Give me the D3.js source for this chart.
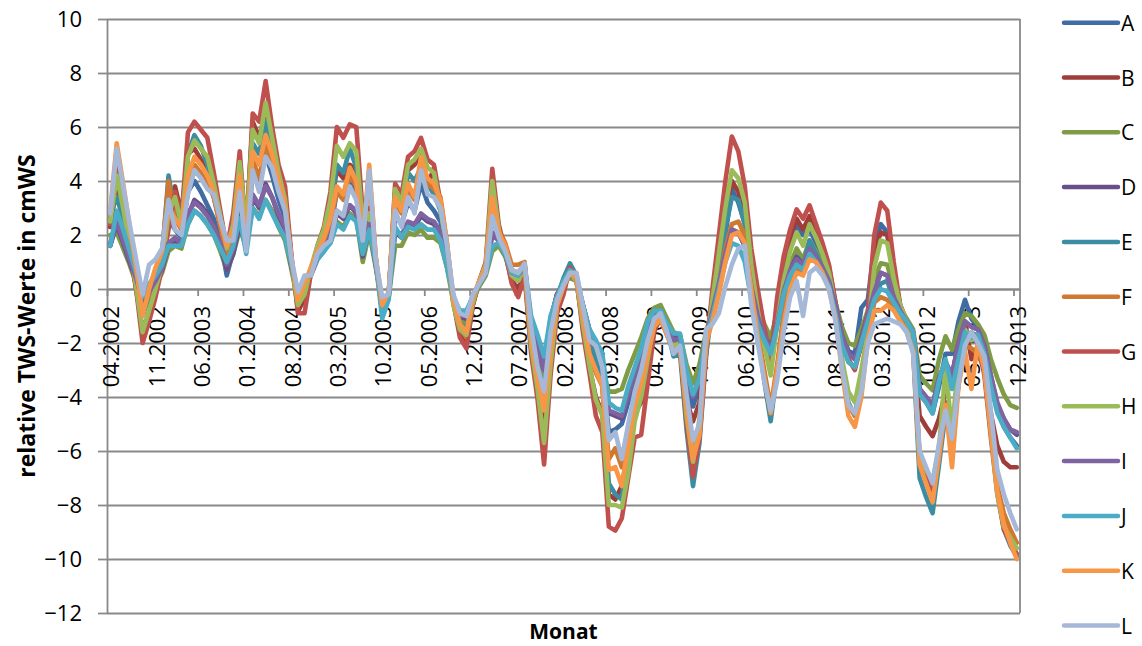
<!DOCTYPE html>
<html>
<head>
<meta charset="utf-8">
<script src="https://cdn.jsdelivr.net/npm/d3@7"></script>
<style>
  body { margin: 0; background: #fff; }
  svg text { font-family: "Open Sans", "DejaVu Sans", sans-serif; fill: #000; }
</style>
</head>
<body>
<div id="chart"></div>
<script>
// months 04.2002 .. 12.2013 (141 categories)
var months = d3.timeMonths(new Date(2002, 3, 1), new Date(2014, 0, 1));
var tickLabels = ["04.2002", "11.2002", "06.2003", "01.2004", "08.2004", "03.2005", "10.2005",
    "05.2006", "12.2006", "07.2007", "02.2008", "09.2008", "04.2009", "11.2009", "06.2010",
    "01.2011", "08.2011", "03.2012", "10.2012", "05.2013", "12.2013"];
var yTicks = [-12, -10, -8, -6, -4, -2, 0, 2, 4, 6, 8, 10];

var seriesNames = ["A", "B", "C", "D", "E", "F", "G", "H", "I", "J", "K", "L"];
var seriesColors = ["#3f6ca3", "#9e3d3a", "#7f9b46", "#67508a", "#3a8da2", "#cf7832",
    "#c0504d", "#9bbb59", "#8064a2", "#4bacc6", "#f79646", "#a6b8d8"];

var A = [1.6, 2.6, 1.9, 1.1, 0.3, -0.6, -0.2, 0.2, 0.8, 2.6,
    2.2, 1.9, 3.6, 4.0, 3.6, 3.1, 2.6, 1.8, 0.5, 1.4,
    3.4, 1.6, 4.3, 3.8, 5.0, 4.2, 3.3, 2.6, 0.9, -0.3,
    0.2, 0.6, 1.2, 1.6, 2.2, 3.6, 3.4, 4.0, 3.6, 1.6,
    2.6, 0.9, -0.5, -0.2, 2.7, 2.4, 3.2, 2.9, 3.9, 3.2,
    2.9, 2.5, 1.2, -0.3, -1.1, -1.2, -0.3, 0.2, 0.7, 2.6,
    2.0, 1.4, 0.6, 0.4, 0.8, -1.5, -2.6, -3.4, -1.4, -0.3,
    0.2, 0.8, 0.4, -0.8, -1.8, -2.3, -3.0, -5.3, -5.2, -5.0,
    -4.2, -3.4, -2.8, -1.8, -1.0, -0.9, -1.5, -2.0, -1.9, -3.6,
    -4.35, -3.6, -1.9, -0.7, 0.6, 2.0, 3.7, 3.2, 2.4, 0.5,
    -0.8, -1.5, -2.0, -0.8, 0.6, 1.6, 2.3, 2.0, 2.2, 1.7,
    1.2, 0.6, -0.6, -1.6, -2.3, -2.4, -0.7, -0.4, 1.6, 2.4,
    2.1, 0.5, -0.8, -1.2, -1.7, -3.9, -4.2, -4.6, -3.6, -2.4,
    -2.4, -1.2, -0.4, -1.1, -1.4, -2.2, -3.4, -4.5, -5.1, -5.5,
    -5.8];
var B = [2.3, 3.8, 2.7, 1.4, 0.0, -1.5, -0.9, -0.1, 0.9, 3.0,
    3.8, 2.8, 5.0, 5.2, 4.8, 4.3, 3.4, 2.4, 1.2, 2.1,
    4.6, 2.2, 6.2, 5.6, 6.6, 5.2, 4.1, 3.4, 1.1, -0.8,
    -0.4, 0.7, 1.5, 2.0, 3.0, 4.4, 4.1, 4.6, 4.4, 2.2,
    3.0, 1.0, -0.8, -0.3, 3.6, 3.1, 4.4, 4.6, 5.0, 3.8,
    4.5, 3.0, 1.4, -0.5, -1.6, -2.1, -0.6, 0.3, 0.9, 3.8,
    2.3, 1.3, 0.3, 0.0, 0.6, -2.2, -3.6, -5.2, -2.6, -0.8,
    0.0, 0.7, 0.3, -1.4, -2.9, -4.0, -4.6, -7.6, -7.8, -7.3,
    -6.0, -4.6, -4.2, -2.9, -1.5, -1.1, -1.7, -2.3, -2.2, -4.1,
    -4.9, -4.2, -2.0, -0.3, 1.2, 2.8, 4.0, 3.6, 2.8, 0.8,
    -0.6, -1.7, -2.7, -0.5, 0.9, 1.9, 2.6, 2.2, 2.7, 2.1,
    1.5, 0.8, -0.5, -1.8, -2.7, -2.9, -2.1, -1.0, 1.4, 2.1,
    2.0, 0.6, -0.6, -1.2, -1.9, -4.7, -5.1, -5.45, -4.8, -3.8,
    -3.2, -2.0, -1.2, -2.6, -2.1, -3.0, -4.6, -5.8, -6.4, -6.6,
    -6.6];
var C = [2.0, 2.1, 1.5, 0.9, 0.2, -0.7, -0.4, 0.1, 0.6, 1.4,
    1.6, 1.5, 2.4, 2.9, 2.7, 2.4, 2.0, 1.4, 0.7, 1.3,
    2.2, 1.6, 3.0, 2.7, 3.3, 2.9, 2.3, 1.8, 0.7, -0.5,
    0.1, 0.6, 1.2, 1.5, 1.7, 2.5, 2.3, 2.8, 2.6, 1.0,
    2.1, 0.8, -0.6, -0.3, 1.6, 1.6, 2.1, 2.0, 2.2, 1.9,
    1.9, 1.7, 0.8, -0.5, -1.2, -1.3, -0.4, 0.1, 0.5, 1.4,
    1.6, 1.2, 0.5, 0.4, 0.7, -1.4, -2.4, -3.2, -1.2, -0.2,
    0.3, 0.4, 0.3, -0.6, -1.6, -2.4, -3.0, -3.8, -3.8, -3.7,
    -3.0, -2.4, -1.8, -1.1, -0.7, -0.6, -1.1, -1.6, -1.7, -2.8,
    -3.5, -2.8, -1.6, -0.8, 0.0, 1.1, 2.2, 2.1, 1.6, 0.3,
    -0.6, -1.3, -1.8, -0.9, 0.2, 0.9, 1.5, 1.1, 1.8, 1.4,
    0.9, 0.4, -0.5, -1.4, -2.0, -2.1, -1.5, -0.8, 0.4, 0.95,
    0.9, 0.0, -0.7, -1.1, -1.5, -3.2, -3.5, -3.75, -2.6, -1.75,
    -2.25, -1.5, -0.9, -1.0, -1.3, -1.7, -2.6, -3.3, -3.9, -4.3,
    -4.4];
var D = [1.6, 2.4, 1.7, 1.0, 0.3, -0.6, -0.3, 0.1, 0.7, 1.6,
    1.8, 1.6, 2.7, 3.3, 3.1, 2.8, 2.3, 1.6, 0.7, 1.3,
    2.4, 1.5, 3.4, 3.0, 3.9, 3.4, 2.7, 2.2, 0.8, -0.3,
    0.2, 0.5, 1.1, 1.4, 1.8, 2.8, 2.6, 3.1, 2.8, 1.2,
    2.3, 0.9, -0.5, -0.2, 2.1, 1.9, 2.4, 2.3, 2.7, 2.5,
    2.4, 2.0, 1.0, -0.3, -1.0, -1.1, -0.3, 0.2, 0.6, 2.0,
    1.8, 1.3, 0.5, 0.3, 0.8, -1.3, -2.3, -3.0, -1.2, -0.2,
    0.2, 0.5, 0.4, -0.6, -1.5, -2.0, -2.6, -4.6, -4.7, -4.8,
    -3.9, -3.1, -2.5, -1.6, -0.9, -0.9, -1.4, -1.8, -1.8, -3.3,
    -4.0, -3.3, -1.8, -0.8, 0.3, 1.4, 2.1, 2.1, 1.6, 0.2,
    -0.9, -1.7, -2.25, -1.2, 0.0, 0.7, 1.2, 0.9, 1.5, 1.2,
    0.8, 0.3, -0.6, -1.7, -2.4, -2.6, -1.8, -0.9, 0.0, 0.6,
    0.5, -0.3, -0.8, -1.2, -1.6, -3.7, -4.0, -4.3, -3.3, -2.7,
    -3.2, -2.0, -1.2, -1.4, -1.5, -2.1, -3.2, -4.3, -4.8, -5.2,
    -5.4];
var E = [2.8, 3.4, 2.6, 1.5, 0.3, -1.0, -0.3, 0.4, 1.2, 4.2,
    2.8, 2.3, 5.0, 5.7, 5.3, 4.6, 3.6, 2.5, 1.1, 2.0,
    4.4, 1.9, 5.4, 5.0, 6.2, 5.2, 4.0, 3.1, 1.0, -0.4,
    0.1, 0.7, 1.4, 1.9, 2.8, 4.6, 4.3, 5.2, 4.5, 2.0,
    3.0, 1.0, -0.7, -0.2, 3.3, 2.9, 4.3, 4.0, 4.5, 3.9,
    3.5, 2.9, 1.4, -0.4, -1.3, -1.5, -0.4, 0.2, 0.8, 3.3,
    2.1, 1.5, 0.7, 0.6, 0.9, -1.7, -2.9, -3.7, -1.8, -0.3,
    0.4, 0.95, 0.5, -0.9, -2.0, -2.6, -3.6, -7.2, -7.6, -7.8,
    -5.8, -4.2, -3.2, -2.0, -0.9, -0.9, -1.5, -2.5, -2.4, -5.2,
    -7.3, -5.7, -2.5, -0.6, 0.7, 2.2, 3.4, 3.3, 2.4, 0.4,
    -1.6, -3.4, -4.9, -3.0, -0.9, 0.3, 1.0, 0.8, 1.8, 1.3,
    0.8, 0.2, -0.9, -2.6, -4.2, -4.7, -3.3, -1.6, -0.3, 0.2,
    0.3, -0.4, -1.0, -1.4, -2.3, -7.0, -7.7, -8.3, -6.5, -4.6,
    -5.4, -3.2, -1.8, -1.6, -1.8, -2.7, -4.9, -7.4, -8.9, -9.5,
    -9.9];
var F = [2.6, 5.0, 3.6, 2.1, 0.7, -0.8, -0.2, 0.6, 1.3, 4.0,
    2.6, 2.2, 4.0, 4.6, 4.3, 3.9, 3.4, 2.3, 1.3, 2.0,
    3.9, 1.8, 4.8, 4.1, 5.3, 4.7, 3.8, 3.0, 1.0, -0.5,
    0.1, 0.7, 1.3, 1.8, 2.5, 3.6, 3.3, 4.2, 3.8, 1.7,
    4.3, 1.2, -0.9, -0.2, 3.2, 2.8, 3.7, 3.3, 4.5, 3.9,
    3.7, 3.4, 1.7, -0.4, -1.4, -1.8, -0.4, 0.3, 0.8, 3.2,
    2.2, 1.7, 0.9, 0.9, 1.0, -1.9, -3.2, -4.2, -2.0, -0.6,
    0.1, 0.6, 0.4, -1.1, -2.4, -3.1, -3.6, -6.3, -5.9, -6.6,
    -5.3, -4.2, -3.6, -2.5, -1.4, -1.1, -1.7, -2.3, -2.3, -4.3,
    -5.9, -5.1, -2.0, -1.0, 0.2, 1.5, 2.4, 2.5, 2.0, 0.2,
    -1.6, -3.0, -4.4, -2.8, -1.0, 0.2, 0.8, 0.6, 1.2, 1.1,
    0.7, 0.1, -1.0, -2.8, -4.3, -4.7, -3.6, -1.7, -0.5, -0.3,
    -0.4, -0.7, -1.1, -1.5, -2.2, -6.2, -6.9, -7.5, -6.0, -4.2,
    -6.2, -3.5, -2.1, -2.2, -2.4, -3.0, -5.0, -7.3, -8.3, -8.9,
    -9.4];
var G = [2.4, 4.6, 3.2, 1.6, 0.0, -2.0, -1.2, -0.3, 0.8, 2.2,
    3.6, 2.6, 5.8, 6.2, 5.9, 5.6, 4.3, 2.9, 1.5, 2.8,
    5.1, 2.0, 6.5, 6.2, 7.7, 6.0, 4.6, 3.8, 1.2, -0.9,
    -0.9, 0.6, 1.6, 2.3, 3.6, 6.0, 5.6, 6.1, 6.0, 2.8,
    3.0, 1.0, -0.7, -0.3, 3.9, 3.5, 4.9, 5.1, 5.6, 4.8,
    4.6, 3.2, 1.5, -0.5, -1.8, -2.2, -0.6, 0.3, 1.0, 4.45,
    2.4, 1.4, 0.2, -0.3, 0.5, -2.4, -4.1, -6.5, -3.2, -0.9,
    -0.2, 0.8, 0.4, -1.6, -3.1, -4.7, -5.3, -8.8, -8.95, -8.5,
    -7.0, -5.5, -5.4, -3.5, -1.6, -1.0, -1.6, -2.3, -2.2, -5.0,
    -6.95, -5.5, -2.5, 0.0, 2.0, 4.0, 5.65, 5.1, 3.8, 1.5,
    0.0, -1.4, -2.6, -0.3, 1.2, 2.2, 2.95, 2.6, 3.1, 2.4,
    1.7, 0.9, -0.5, -1.8, -2.6, -3.0, -2.0, -0.9, 2.0, 3.2,
    2.9, 1.0, -0.6, -1.2, -2.0, -6.3, -6.8, -7.4, -6.2, -4.2,
    -6.0, -3.4, -1.7, -1.8, -2.0, -3.2, -5.5, -7.6, -8.9, -9.4,
    -9.8];
var H = [2.5, 4.2, 3.0, 1.6, 0.1, -1.6, -0.8, 0.0, 0.9, 2.8,
    3.4, 2.4, 4.9, 5.5, 5.2, 4.9, 3.9, 2.7, 1.5, 2.4,
    4.7, 2.2, 5.9, 5.4, 6.9, 5.6, 4.3, 3.3, 0.9, -0.6,
    -0.2, 0.8, 1.6, 2.2, 3.3, 5.3, 4.9, 5.4, 5.1, 2.4,
    2.8, 1.0, -0.6, -0.3, 3.7, 3.2, 4.6, 4.8, 5.2, 4.5,
    4.3, 3.0, 1.4, -0.6, -1.5, -1.7, -0.5, 0.3, 0.9, 4.0,
    2.2, 1.4, 0.5, 0.3, 0.8, -2.1, -3.7, -5.7, -2.8, -0.6,
    0.1, 0.6, 0.3, -1.3, -2.8, -4.1, -4.7, -8.0, -8.0, -8.1,
    -6.8, -4.9, -4.0, -2.6, -1.3, -0.9, -1.5, -2.1, -2.0, -4.7,
    -6.4, -4.8, -2.2, -0.4, 1.3, 3.0, 4.4, 4.1, 3.2, 0.9,
    -0.8, -2.1, -3.2, -1.3, 0.3, 1.4, 2.1, 1.6, 2.4, 1.9,
    1.3, 0.6, -0.7, -2.6, -3.8, -4.2, -3.0, -1.6, 0.8, 1.8,
    1.7, 0.4, -0.6, -1.2, -2.0, -6.3, -6.7, -7.1, -5.9, -2.9,
    -5.3, -2.6, -1.5, -1.9, -1.7, -2.9, -5.3, -7.6, -8.8, -9.2,
    -9.6];
var I = [1.7, 2.5, 1.8, 1.1, 0.4, -0.5, -0.1, 0.3, 0.8, 1.7,
    1.9, 1.7, 2.8, 3.2, 3.0, 2.7, 2.3, 1.7, 0.9, 1.5,
    2.6, 1.6, 3.5, 3.1, 3.8, 3.4, 2.8, 2.3, 0.9, -0.2,
    0.3, 0.6, 1.2, 1.5, 1.9, 2.9, 2.7, 3.1, 2.9, 1.3,
    2.4, 1.0, -0.5, -0.2, 2.2, 2.0, 2.5, 2.4, 2.8, 2.6,
    2.5, 2.1, 1.0, -0.3, -1.0, -1.0, -0.2, 0.2, 0.6, 2.1,
    1.8, 1.4, 0.6, 0.5, 0.8, -1.2, -2.2, -3.0, -1.1, -0.2,
    0.2, 0.6, 0.4, -0.6, -1.5, -2.0, -2.6, -4.5, -4.6, -4.7,
    -3.9, -3.2, -2.5, -1.5, -0.9, -0.8, -1.4, -1.9, -1.8, -3.3,
    -4.0, -3.4, -1.8, -0.8, 0.2, 1.3, 2.2, 2.1, 1.6, 0.1,
    -1.0, -1.7, -2.3, -1.3, -0.1, 0.7, 1.1, 0.9, 1.5, 1.2,
    0.8, 0.3, -0.6, -1.7, -2.4, -2.6, -1.9, -1.0, -0.1, 0.6,
    0.5, -0.3, -0.8, -1.2, -1.6, -3.7, -4.0, -4.3, -3.3, -2.7,
    -3.2, -2.0, -1.2, -1.4, -1.5, -2.1, -3.2, -4.2, -4.8, -5.2,
    -5.3];
var J = [1.6, 2.9, 2.2, 1.4, 0.6, -0.3, 0.2, 0.5, 0.9, 1.6,
    1.6, 1.6, 2.4, 2.9, 2.7, 2.4, 2.0, 1.5, 1.0, 1.6,
    2.6, 1.3, 3.0, 2.6, 3.3, 2.8, 2.3, 1.9, 0.9, -0.2,
    0.4, 0.6, 1.1, 1.4, 1.7, 2.4, 2.2, 2.7, 2.5, 1.3,
    2.2, 1.0, -1.1, -0.4, 2.3, 1.9, 2.3, 2.2, 2.4, 2.2,
    2.2, 1.8, 0.8, -0.3, -0.8, -0.8, -0.3, 0.2, 0.6, 1.6,
    1.7, 1.3, 0.6, 0.5, 0.9, -1.0, -1.7, -2.5, -1.0, -0.3,
    0.3, 0.7, 0.5, -0.6, -1.5, -1.9, -2.4, -4.2, -4.4, -4.5,
    -3.6, -2.9, -2.2, -1.2, -0.8, -0.8, -1.3, -1.65, -1.65, -3.0,
    -3.9, -3.3, -1.8, -1.0, 0.0, 1.0, 1.7, 1.6, 1.0, -0.4,
    -1.3, -1.9, -2.4, -1.4, -0.2, 0.5, 0.9, 0.7, 1.3, 1.0,
    0.6, 0.1, -0.9, -2.1, -2.7, -2.9, -2.0, -1.2, -0.4, 0.0,
    -0.1, -0.5, -0.9, -1.2, -1.6, -3.9, -4.2, -4.6, -3.4, -2.6,
    -3.7, -2.6, -1.6, -1.8, -1.7, -2.4, -3.6, -4.6, -5.1, -5.5,
    -5.9];
var K = [2.9, 5.4, 3.9, 2.3, 0.8, -1.0, 0.0, 0.8, 1.4, 3.0,
    2.6, 2.3, 4.2, 4.9, 4.6, 4.2, 3.6, 2.5, 1.6, 2.2,
    4.2, 1.6, 5.1, 4.6, 5.7, 5.0, 4.0, 3.1, 1.1, -0.4,
    0.2, 0.8, 1.4, 1.9, 2.6, 3.8, 3.5, 4.5, 4.0, 1.8,
    4.6, 1.2, -0.6, -0.1, 3.4, 2.9, 3.9, 3.4, 4.9, 4.1,
    3.9, 3.3, 1.7, -0.4, -1.3, -1.6, -0.3, 0.3, 0.8, 3.4,
    2.1, 1.6, 0.7, 0.6, 0.9, -1.8, -3.3, -4.5, -2.2, -0.6,
    0.1, 0.6, 0.4, -1.0, -2.4, -3.0, -3.6, -6.7, -6.6, -7.3,
    -5.8, -4.3, -3.5, -2.4, -1.4, -1.1, -1.7, -2.3, -2.2, -4.4,
    -6.3, -5.4, -2.0, -1.2, -0.2, 1.0, 2.0, 2.1, 1.7, 0.0,
    -1.8, -3.3, -4.6, -3.0, -1.3, 0.0, 0.6, 0.5, 1.1, 1.0,
    0.6, 0.0, -1.1, -3.0, -4.7, -5.1, -4.0, -1.9, -0.8, -0.8,
    -0.6, -0.8, -1.2, -1.6, -2.3, -6.5, -7.2, -7.9, -6.2, -4.3,
    -6.6, -3.6, -2.3, -3.7, -2.0, -3.0, -5.2, -7.5, -8.7, -9.4,
    -10.0];
var L = [2.8, 5.2, 3.8, 2.4, 1.1, -0.2, 0.9, 1.1, 1.5, 3.3,
    2.2, 2.0, 3.5, 4.4, 4.1, 3.7, 3.5, 2.6, 1.8, 1.8,
    3.6, 1.4, 4.4, 3.6, 4.9, 4.5, 3.6, 2.9, 1.1, -0.1,
    0.5, 0.5, 1.3, 1.6, 1.8, 2.9, 2.7, 3.8, 3.3, 1.8,
    4.4, 1.1, -0.3, -0.2, 2.9, 2.3, 3.4, 2.8, 4.4, 3.5,
    3.4, 3.0, 1.6, -0.2, -0.9, -1.0, -0.2, 0.2, 0.6, 2.7,
    1.9, 1.4, 0.7, 0.6, 0.95, -1.4, -2.9, -3.8, -1.6, -0.4,
    0.15, 0.6, 0.6, -0.65, -1.9, -2.1, -2.9, -5.6, -5.3, -6.3,
    -5.0, -3.8, -3.0, -1.9, -1.1, -0.9, -1.6, -2.4, -2.1, -3.9,
    -5.6, -5.0, -1.5, -1.3, -0.9, 0.1, 0.9, 1.5, 1.6, -0.6,
    -2.0, -3.4, -4.5, -3.4, -1.6, -0.3, 0.3, -1.0, 0.6, 0.8,
    0.5, 0.0, -1.2, -2.9, -4.3, -4.6, -3.8, -2.0, -1.3, -1.2,
    -1.1, -1.2, -1.3, -1.6, -2.4, -6.0, -6.6, -7.2, -5.7, -4.5,
    -5.55, -3.5, -2.1, -1.6, -2.0, -2.5, -4.5, -6.7, -7.6, -8.3,
    -8.9];

var seriesValues = [A, B, C, D, E, F, G, H, I, J, K, L];

var width = 1142, height = 646,
    plot = { left: 107, right: 1020, top: 19, bottom: 613 };

var svg = d3.select("#chart").append("svg")
    .attr("width", width)
    .attr("height", height);

var x = d3.scaleBand()
    .domain(d3.range(months.length))
    .range([plot.left, plot.right])
    .paddingInner(0).paddingOuter(0);

var xEdge = d3.scaleLinear()
    .domain([0, months.length])
    .range([plot.left, plot.right]);

var y = d3.scaleLinear()
    .domain([-12, 10])
    .range([plot.bottom, plot.top]);

// gridlines
svg.append("g")
    .attr("transform", "translate(" + plot.left + ",0)")
    .call(d3.axisLeft(y).tickValues(yTicks).tickSize(-(plot.right - plot.left)).tickFormat(""))
    .call(function (g) { g.select(".domain").remove(); })
    .selectAll("line")
    .attr("stroke", "#898989")
    .attr("stroke-width", 1.8);

// right border of the plot area
svg.append("line")
    .attr("x1", plot.right).attr("x2", plot.right)
    .attr("y1", plot.top).attr("y2", plot.bottom)
    .attr("stroke", "#898989").attr("stroke-width", 1.8);

// y axis
var yAxis = svg.append("g")
    .attr("transform", "translate(" + plot.left + ",0)")
    .call(d3.axisLeft(y).tickValues(yTicks).tickSize(9).tickPadding(16).tickSizeOuter(0));
yAxis.select(".domain").attr("stroke", "#898989").attr("stroke-width", 1.8);
yAxis.selectAll(".tick line").attr("stroke", "#898989").attr("stroke-width", 1.8);
yAxis.selectAll(".tick text")
    .style("font-size", "22px")
    .style("font-family", "'Open Sans', sans-serif");

// x axis on the zero line, ticks every 7 months
var xAxis = svg.append("g")
    .attr("transform", "translate(0," + y(0) + ")")
    .call(d3.axisBottom(xEdge).tickValues(d3.range(0, months.length, 7)).tickSize(7).tickSizeOuter(0).tickFormat(""));
xAxis.select(".domain").attr("stroke", "#898989").attr("stroke-width", 1.8);
xAxis.selectAll(".tick line").attr("stroke", "#898989").attr("stroke-width", 1.8);

svg.append("g").selectAll("text")
    .data(tickLabels)
    .enter()
    .append("text")
    .attr("transform", function (d, i) {
        return "translate(" + (x(i * 7) + x.bandwidth() / 2) + "," + (y(0) + 17) + ") rotate(-90)";
    })
    .attr("text-anchor", "end")
    .attr("dominant-baseline", "central")
    .style("font-size", "22px")
    .text(function (d) { return d; });

// series lines, drawn A..L so L ends on top
var line = d3.line()
    .x(function (d, i) { return x(i) + x.bandwidth() / 2; })
    .y(function (d) { return y(d); })
    .curve(d3.curveLinear);

svg.append("g").selectAll("path")
    .data(seriesValues)
    .enter()
    .append("path")
    .attr("d", line)
    .attr("fill", "none")
    .attr("stroke", function (d, i) { return seriesColors[i]; })
    .attr("stroke-width", 4.6)
    .attr("stroke-linejoin", "round")
    .attr("stroke-linecap", "round");

// legend
var legend = svg.append("g").selectAll("g")
    .data(seriesNames)
    .enter()
    .append("g")
    .attr("transform", function (d, i) { return "translate(1064," + (22.7 + i * 54.8) + ")"; });

legend.append("line")
    .attr("x1", 0).attr("x2", 54)
    .attr("stroke", function (d, i) { return seriesColors[i]; })
    .attr("stroke-width", 4.5)
    .attr("stroke-linecap", "round");

legend.append("text")
    .attr("x", 57)
    .attr("dominant-baseline", "central")
    .style("font-size", "21px")
    .text(function (d) { return d; });

// axis titles
svg.append("text")
    .attr("transform", "translate(26," + ((plot.top + plot.bottom) / 2) + ") rotate(-90)")
    .attr("text-anchor", "middle")
    .attr("dominant-baseline", "central")
    .style("font-size", "23px")
    .style("font-weight", "bold")
    .text("relative TWS-Werte in cmWS");

svg.append("text")
    .attr("x", (plot.left + plot.right) / 2)
    .attr("y", 639)
    .attr("text-anchor", "middle")
    .style("font-size", "21px")
    .style("font-weight", "bold")
    .text("Monat");
</script>
</body>
</html>
